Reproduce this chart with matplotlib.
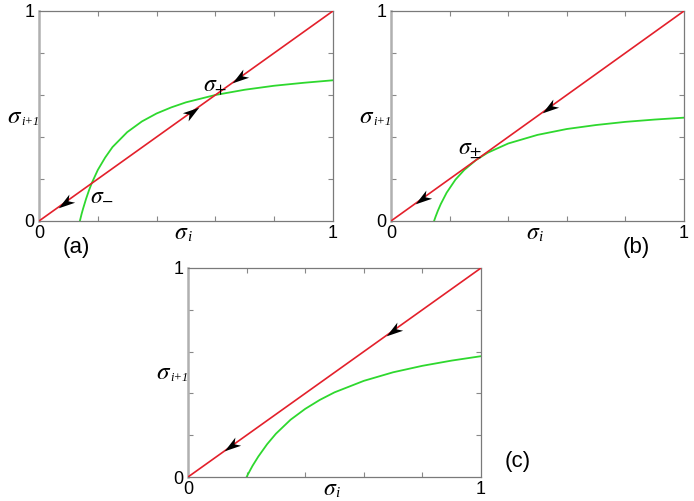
import numpy as np
import matplotlib
matplotlib.use("Agg")
import matplotlib.pyplot as plt
from matplotlib.markers import MarkerStyle
from matplotlib.path import Path
from matplotlib.transforms import Affine2D

plt.rcParams["font.family"] = ["Liberation Sans", "DejaVu Sans"]
plt.rcParams["mathtext.fontset"] = "stix"

# diagonal sigma_{i+1} = sigma_i
diag = [0.0, 1.0]

# green map curves
a_x = [0.139, 0.145, 0.15, 0.16, 0.17, 0.18, 0.20, 0.225, 0.25, 0.30, 0.35, 0.40,
       0.45, 0.50, 0.60, 0.70, 0.80, 0.90, 1.0]
a_y = [0.0, 0.034, 0.059, 0.105, 0.146, 0.182, 0.243, 0.302, 0.352, 0.423, 0.474,
       0.512, 0.541, 0.565, 0.600, 0.625, 0.644, 0.658, 0.670]

b_x = [0.147, 0.152, 0.16, 0.17, 0.19, 0.22, 0.25, 0.29, 0.33, 0.40, 0.50, 0.60,
       0.70, 0.80, 0.90, 1.0]
b_y = [0.0, 0.020, 0.049, 0.081, 0.135, 0.197, 0.243, 0.290, 0.325, 0.369, 0.410,
       0.438, 0.457, 0.472, 0.483, 0.492]

c_x = [0.20, 0.205, 0.21, 0.22, 0.24, 0.27, 0.30, 0.35, 0.40, 0.45, 0.50, 0.60,
       0.70, 0.80, 0.90, 1.0]
c_y = [0.0, 0.014, 0.027, 0.053, 0.098, 0.157, 0.207, 0.274, 0.326, 0.369, 0.405,
       0.460, 0.501, 0.532, 0.557, 0.578]

# arrows on the diagonal: position and direction (+1 up-right, -1 down-left)
a_arrows = [0.088, 0.52, 0.68]
a_dirs = [-1, 1, -1]
b_arrows = [0.105, 0.54]
b_dirs = [-1, -1]
c_arrows = [0.147, 0.70]
c_dirs = [-1, -1]

RED = "#e3202b"
GREEN = "#2ed82e"

# stealth-like arrow head pointing along +x
head = Path([(1.0, 0.0), (-1.0, 0.6), (-0.45, 0.0), (-1.0, -0.6), (1.0, 0.0)],
            [Path.MOVETO, Path.LINETO, Path.LINETO, Path.LINETO, Path.CLOSEPOLY])


def setup(ax):
    ax.set_xlim(0, 1)
    ax.set_ylim(0, 1)
    ax.set_xticks([0, 1])
    ax.set_yticks([0, 1])
    ax.set_xticklabels(["0", "1"])
    ax.set_yticklabels(["0", "1"])
    ax.set_xticks([0.2, 0.4, 0.6, 0.8], minor=True)
    ax.set_yticks([0.2, 0.4, 0.6, 0.8], minor=True)
    ax.tick_params(which="major", length=0, labelsize=13, pad=3)
    ax.tick_params(which="minor", direction="in", length=3.5, width=0.8,
                   color="#888888", top=True, right=True)
    for s in ["top", "right", "bottom"]:
        ax.spines[s].set_color("#7a7a7a")
        ax.spines[s].set_linewidth(0.9)
    ax.spines["left"].set_color("#b0b0b0")
    ax.spines["left"].set_linewidth(1.8)
    # sigma_i below the x axis
    ax.annotate(r"$\sigma$", xy=(0.5, 0), xycoords="axes fraction",
                xytext=(2, -13), textcoords="offset points", fontsize=17,
                ha="right", va="baseline")
    ax.annotate("i", xy=(0.5, 0), xycoords="axes fraction",
                xytext=(0.8, -14.5), textcoords="offset points", fontsize=11,
                family=["Liberation Serif"], style="italic",
                ha="left", va="baseline")
    # sigma_{i+1}: big sigma with a small italic subscript
    ax.annotate(r"$\sigma$", xy=(0, 0.5), xycoords="axes fraction",
                xytext=(-23, 0), textcoords="offset points", fontsize=18,
                ha="left", va="center")
    ax.annotate("i+1", xy=(0, 0.5), xycoords="axes fraction",
                xytext=(-12.5, -4), textcoords="offset points", fontsize=9,
                family=["Liberation Serif"], style="italic",
                ha="left", va="center")


def draw(ax, cx, cy, arrows, dirs):
    ax.plot(diag, diag, color=RED, lw=1.2, zorder=3)
    ax.plot(cx, cy, color=GREEN, lw=1.3, zorder=2)
    fig.canvas.draw()
    p0 = ax.transData.transform((0, 0))
    p1 = ax.transData.transform((1, 1))
    ang = np.degrees(np.arctan2(p1[1] - p0[1], p1[0] - p0[0]))
    for x, d in zip(arrows, dirs):
        a = ang if d > 0 else ang + 180
        m = MarkerStyle(head, transform=Affine2D().rotate_deg(a))
        ax.plot([x], [x], marker=m, markersize=12, color="black",
                markeredgewidth=0, linestyle="none", zorder=4, clip_on=False)


fig = plt.figure(figsize=(6.94, 5.01), dpi=100)
ax_a = fig.add_axes([0.0562, 0.5589, 0.4236, 0.4192])
ax_b = fig.add_axes([0.5634, 0.5589, 0.4222, 0.4192])
ax_c = fig.add_axes([0.2709, 0.0479, 0.4222, 0.4172])

for ax in (ax_a, ax_b, ax_c):
    setup(ax)

draw(ax_a, a_x, a_y, a_arrows, a_dirs)
draw(ax_b, b_x, b_y, b_arrows, b_dirs)
draw(ax_c, c_x, c_y, c_arrows, c_dirs)

ax_a.text(0.6, 0.645, r"$\sigma_{+}$", fontsize=17, ha="center", va="center")
ax_a.text(0.215, 0.13, r"$\sigma_{-}$", fontsize=17, ha="center", va="center")
ax_b.text(0.27, 0.34, r"$\sigma_{\pm}$", fontsize=17, ha="center", va="center")

fig.text(76 / 694, 1 - 248 / 501, "(a)", fontsize=16, ha="center", va="center")
fig.text(636 / 694, 1 - 248 / 501, "(b)", fontsize=16, ha="center", va="center")
fig.text(518 / 694, 1 - 462 / 501, "(c)", fontsize=16, ha="center", va="center")

fig.savefig("out.png", dpi=100)
